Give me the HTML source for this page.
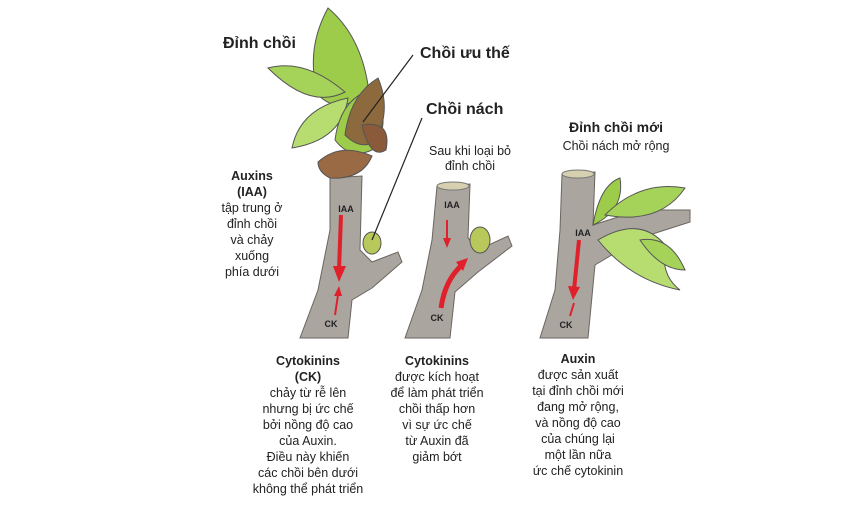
<!DOCTYPE html>
<html><head><meta charset="utf-8"><style>
html,body{margin:0;padding:0;background:#fff;}
svg{display:block;}
text{font-family:"Liberation Sans","Noto Sans CJK SC",sans-serif;fill:#222;}
.b{font-weight:bold;}
</style></head><body>
<svg width="853" height="524" viewBox="0 0 853 524" xmlns="http://www.w3.org/2000/svg">
<!-- Stem 1 -->
<path d="M330,178 L362,176 L360,250 L372,262 L398,252 L402,262 L372,288 L352,300 L348,338 L300,338 L318,290 L330,230 Z" fill="#aaa59f" stroke="#6b6560" stroke-width="1"/>
<!-- leaves stem 1 -->
<path d="M328,8 Q305,50 318,95 Q345,120 368,85 Q360,35 328,8Z" fill="#9ccc4a" stroke="#555" stroke-width="1"/>
<path d="M268,68 Q305,58 345,92 Q310,110 268,68Z" fill="#a5d35a" stroke="#555" stroke-width="1"/>
<path d="M292,148 Q300,108 348,98 Q342,140 292,148Z" fill="#b7dd70" stroke="#555" stroke-width="1"/>
<path d="M335,140 Q340,100 370,90 Q395,120 372,150 Q350,160 335,140Z" fill="#9ccc4a" stroke="#555" stroke-width="1"/>
<path d="M345,135 Q350,95 378,78 Q392,110 375,142 Q360,150 345,135Z" fill="#8c6a3e" stroke="#555" stroke-width="1"/>
<path d="M318,162 Q340,142 372,156 Q362,180 330,178 Q318,172 318,162Z" fill="#9a6a45" stroke="#555" stroke-width="1"/>
<path d="M362,125 Q392,120 386,150 Q370,160 362,125Z" fill="#8a5a3a" stroke="#555" stroke-width="1"/>
<ellipse cx="372" cy="243" rx="9" ry="11" fill="#b8c85a" stroke="#555"/>
<!-- leader lines -->
<line x1="363" y1="122" x2="413" y2="55" stroke="#222" stroke-width="1.2"/>
<line x1="372" y1="240" x2="422" y2="118" stroke="#222" stroke-width="1.2"/>
<!-- arrows stem 1 -->
<path d="M341,215 L339,270" stroke="#e0202a" stroke-width="4" fill="none"/>
<path d="M333,266 L339,282 L346,266Z" fill="#e0202a"/>
<path d="M335,315 L338,295" stroke="#e0202a" stroke-width="2" fill="none"/>
<path d="M334,296 L339,286 L342,296Z" fill="#e0202a"/>
<text x="346" y="212" class="b" font-size="9" text-anchor="middle">IAA</text>
<text x="331" y="327" class="b" font-size="9" text-anchor="middle">CK</text>

<!-- Stem 2 -->
<path d="M437,186 L470,184 L468,238 L478,250 L508,236 L512,246 L478,272 L455,292 L450,338 L405,338 L422,290 L432,240 Z" fill="#aaa59f" stroke="#6b6560" stroke-width="1"/>
<ellipse cx="453" cy="186" rx="16" ry="4" fill="#d6d0b0" stroke="#777"/>
<ellipse cx="480" cy="240" rx="10" ry="13" fill="#b8c85a" stroke="#555"/>
<path d="M447,220 L447,240" stroke="#e0202a" stroke-width="2"/>
<path d="M443,238 L447,248 L451,238Z" fill="#e0202a"/>
<path d="M441,308 Q445,280 462,265" stroke="#e0202a" stroke-width="5" fill="none"/>
<path d="M456,262 L468,258 L463,271Z" fill="#e0202a"/>
<text x="452" y="208" class="b" font-size="9" text-anchor="middle">IAA</text>
<text x="437" y="321" class="b" font-size="9" text-anchor="middle">CK</text>

<!-- Stem 3 -->
<path d="M562,174 L595,172 L593,225 L640,210 L690,210 L690,222 L640,238 L595,265 L588,338 L540,338 L555,290 L560,230 Z" fill="#aaa59f" stroke="#6b6560" stroke-width="1"/>
<ellipse cx="578" cy="174" rx="16" ry="4" fill="#d6d0b0" stroke="#777"/>
<path d="M593,225 Q600,185 620,178 Q625,210 593,225Z" fill="#9ccc4a" stroke="#555"/>
<path d="M605,215 Q640,180 685,188 Q660,225 605,215Z" fill="#a5d35a" stroke="#555"/>
<path d="M598,240 Q640,215 665,245 Q660,275 680,290 Q630,280 598,240Z" fill="#b7dd70" stroke="#555"/>
<path d="M640,240 Q670,235 685,270 Q660,270 640,240Z" fill="#a5d35a" stroke="#555"/>
<path d="M579,240 L574,290" stroke="#e0202a" stroke-width="4"/>
<path d="M568,286 L573,300 L580,287Z" fill="#e0202a"/>
<path d="M570,316 L574,303" stroke="#e0202a" stroke-width="2"/>
<text x="583" y="236" class="b" font-size="9" text-anchor="middle" fill="#fff">IAA</text>
<text x="566" y="328" class="b" font-size="9" text-anchor="middle">CK</text>

<!-- Titles -->
<text x="223" y="48" class="b" font-size="16">Đỉnh chồi</text>
<text x="420" y="58" class="b" font-size="16">Chồi ưu thế</text>
<text x="426" y="114" class="b" font-size="16">Chồi nách</text>
<text x="470" y="155" font-size="12.5" text-anchor="middle">Sau khi loại bỏ</text>
<text x="470" y="170" font-size="12.5" text-anchor="middle">đỉnh chồi</text>
<text x="616" y="132" class="b" font-size="14" text-anchor="middle">Đỉnh chồi mới</text>
<text x="616" y="150" font-size="12.5" text-anchor="middle">Chồi nách mở rộng</text>

<g font-size="12.5" text-anchor="middle">
<text x="252" y="180" class="b">Auxins</text>
<text x="252" y="196" class="b">(IAA)</text>
<text x="252" y="212">tập trung ở</text>
<text x="252" y="228">đỉnh chồi</text>
<text x="252" y="244">và chảy</text>
<text x="252" y="260">xuống</text>
<text x="252" y="276">phía dưới</text>

<text x="308" y="365" class="b">Cytokinins</text>
<text x="308" y="381" class="b">(CK)</text>
<text x="308" y="397">chảy từ rễ lên</text>
<text x="308" y="413">nhưng bị ức chế</text>
<text x="308" y="429">bởi nồng độ cao</text>
<text x="308" y="445">của Auxin.</text>
<text x="308" y="461">Điều này khiến</text>
<text x="308" y="477">các chồi bên dưới</text>
<text x="308" y="493">không thể phát triển</text>

<text x="437" y="365" class="b">Cytokinins</text>
<text x="437" y="381">được kích hoạt</text>
<text x="437" y="397">để làm phát triển</text>
<text x="437" y="413">chồi thấp hơn</text>
<text x="437" y="429">vì sự ức chế</text>
<text x="437" y="445">từ Auxin đã</text>
<text x="437" y="461">giảm bớt</text>

<text x="578" y="363" class="b">Auxin</text>
<text x="578" y="379">được sản xuất</text>
<text x="578" y="395">tại đỉnh chồi mới</text>
<text x="578" y="411">đang mở rộng,</text>
<text x="578" y="427">và nồng độ cao</text>
<text x="578" y="443">của chúng lại</text>
<text x="578" y="459">một lần nữa</text>
<text x="578" y="475">ức chế cytokinin</text>
</g>
</svg>
</body></html>
